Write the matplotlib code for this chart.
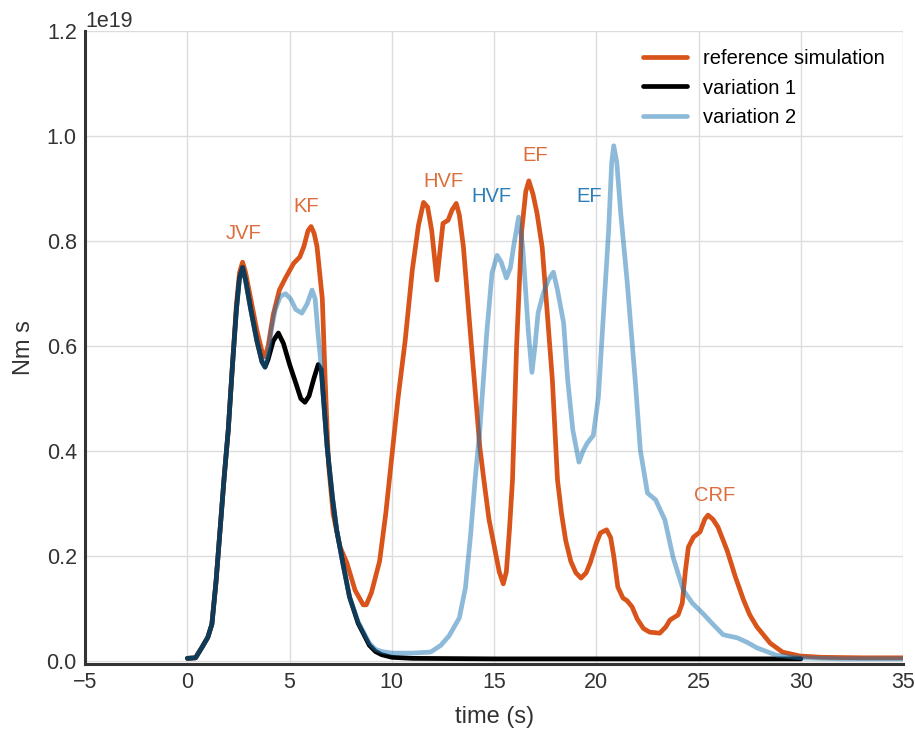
import matplotlib
matplotlib.use('Agg')
import matplotlib.pyplot as plt
import numpy as np

# reference simulation (time in s, value in units of 1e19 Nm s)
ref_t = [0.0, 0.4, 0.7, 1.0, 1.2, 1.4, 1.6, 1.8, 2.0, 2.2, 2.4, 2.55, 2.7, 2.85,
         3.1, 3.4, 3.65, 3.8, 3.95, 4.2, 4.5, 4.8, 5.2, 5.5, 5.7, 5.9, 6.05, 6.2,
         6.34, 6.6, 6.74, 6.9, 7.13, 7.47, 7.8, 8.2, 8.6, 8.75, 9.0, 9.4, 9.7, 10.0,
         10.3, 10.65, 11.0, 11.3, 11.55, 11.75, 11.95, 12.2, 12.35, 12.5, 12.75,
         12.95, 13.15, 13.3, 13.5, 13.83, 14.1, 14.3, 14.5, 14.75, 15.0, 15.25,
         15.45, 15.6, 15.75, 15.9, 16.1, 16.35, 16.55, 16.7, 16.9, 17.1, 17.35,
         17.6, 17.85, 18.1, 18.3, 18.5, 18.75, 19.0, 19.25, 19.5, 19.7, 20.0, 20.2,
         20.5, 20.7, 20.85, 21.05, 21.3, 21.5, 21.75, 22.0, 22.3, 22.6, 23.1, 23.4,
         23.6, 24.0, 24.2, 24.35, 24.5, 24.75, 25.07, 25.3, 25.46, 25.7, 25.95,
         26.4, 26.8, 27.2, 27.5, 27.85, 28.5, 29.1, 29.95, 31.0, 33.0, 35.0]
ref_y = [0.005, 0.006, 0.025, 0.045, 0.07, 0.15, 0.25, 0.35, 0.44, 0.56, 0.68,
         0.74, 0.76, 0.74, 0.69, 0.63, 0.59, 0.58, 0.60, 0.66, 0.707, 0.73, 0.758,
         0.77, 0.79, 0.82, 0.828, 0.815, 0.79, 0.69, 0.535, 0.377, 0.28, 0.217,
         0.187, 0.135, 0.107, 0.107, 0.13, 0.19, 0.28, 0.39, 0.50, 0.61, 0.745,
         0.83, 0.874, 0.865, 0.82, 0.726, 0.78, 0.834, 0.84, 0.86, 0.872, 0.85,
         0.789, 0.63, 0.503, 0.408, 0.345, 0.27, 0.22, 0.17, 0.147, 0.17, 0.25,
         0.345, 0.6, 0.82, 0.895, 0.915, 0.89, 0.853, 0.789, 0.663, 0.535, 0.345,
         0.28, 0.23, 0.19, 0.168, 0.158, 0.168, 0.187, 0.225, 0.244, 0.25, 0.235,
         0.20, 0.141, 0.12, 0.115, 0.103, 0.08, 0.062, 0.055, 0.053, 0.065, 0.078,
         0.088, 0.11, 0.17, 0.217, 0.236, 0.246, 0.27, 0.278, 0.27, 0.255, 0.21,
         0.16, 0.116, 0.088, 0.065, 0.034, 0.017, 0.0095, 0.007, 0.006, 0.006]

# variation 1
v1_t = [0.0, 0.4, 0.7, 1.0, 1.2, 1.4, 1.6, 1.8, 2.0, 2.2, 2.4, 2.55, 2.7, 2.85,
        3.1, 3.4, 3.65, 3.8, 3.95, 4.2, 4.45, 4.7, 5.0, 5.3, 5.55, 5.75, 5.95,
        6.2, 6.4, 6.55, 6.65, 6.83, 7.1, 7.3, 7.6, 7.93, 8.35, 8.6, 8.9, 9.2, 9.5,
        10.0, 11.0, 15.0, 20.0, 25.0, 30.0]
v1_y = [0.005, 0.006, 0.025, 0.045, 0.07, 0.15, 0.25, 0.35, 0.44, 0.56, 0.67,
        0.73, 0.75, 0.725, 0.67, 0.61, 0.57, 0.56, 0.575, 0.61, 0.625, 0.605,
        0.565, 0.53, 0.50, 0.493, 0.505, 0.54, 0.565, 0.555, 0.503, 0.41, 0.31,
        0.25, 0.187, 0.122, 0.072, 0.053, 0.03, 0.018, 0.012, 0.007, 0.005, 0.004,
        0.004, 0.004, 0.004]

# variation 2
v2_t = [0.0, 0.4, 0.7, 1.0, 1.2, 1.4, 1.6, 1.8, 2.0, 2.2, 2.4, 2.55, 2.7, 2.85,
        3.1, 3.4, 3.65, 3.8, 3.95, 4.1, 4.3, 4.55, 4.8, 5.05, 5.3, 5.6, 5.85, 6.1,
        6.25, 6.4, 6.55, 6.65, 6.83, 7.1, 7.3, 7.6, 7.93, 8.35, 8.6, 8.9, 9.2,
        9.5, 10.0, 11.0, 11.9, 12.4, 12.8, 13.3, 13.6, 13.85, 14.07, 14.3, 14.65,
        14.9, 15.15, 15.35, 15.6, 15.8, 15.95, 16.2, 16.4, 16.67, 16.85, 17.0,
        17.15, 17.4, 17.65, 17.9, 18.1, 18.4, 18.6, 18.85, 19.15, 19.35, 19.55,
        19.85, 20.1, 20.35, 20.6, 20.75, 20.85, 21.0, 21.2, 21.5, 21.9, 22.15,
        22.5, 22.9, 23.1, 23.35, 23.75, 24.25, 24.7, 25.2, 25.7, 26.2, 26.9, 27.4,
        27.85, 28.8, 30.0, 32.0, 35.0]
v2_y = [0.005, 0.006, 0.025, 0.045, 0.07, 0.15, 0.25, 0.35, 0.44, 0.56, 0.67,
        0.73, 0.75, 0.725, 0.67, 0.61, 0.57, 0.56, 0.585, 0.63, 0.67, 0.695,
        0.70, 0.69, 0.67, 0.663, 0.68, 0.707, 0.69, 0.62, 0.56, 0.503, 0.41, 0.31,
        0.25, 0.187, 0.122, 0.075, 0.056, 0.034, 0.022, 0.018, 0.015, 0.015,
        0.017, 0.03, 0.048, 0.082, 0.14, 0.24, 0.345, 0.44, 0.63, 0.74, 0.773,
        0.76, 0.73, 0.75, 0.789, 0.846, 0.789, 0.63, 0.55, 0.60, 0.663, 0.70,
        0.726, 0.741, 0.707, 0.644, 0.535, 0.44, 0.379, 0.40, 0.415, 0.43, 0.503,
        0.663, 0.82, 0.95, 0.982, 0.95, 0.85, 0.726, 0.535, 0.402, 0.32, 0.307,
        0.29, 0.269, 0.198, 0.135, 0.11, 0.091, 0.07, 0.05, 0.044, 0.035, 0.025,
        0.011, 0.006, 0.004, 0.004]

# peak labels: (text, t, y, series)
labels = [("JVF", 2.73, 0.815, "ref"), ("KF", 5.8, 0.867, "ref"),
          ("HVF", 12.5, 0.914, "ref"), ("HVF", 14.85, 0.886, "v2"),
          ("EF", 17.0, 0.964, "ref"), ("EF", 19.65, 0.886, "v2"),
          ("CRF", 25.76, 0.316, "ref")]

SCALE = 1e19
ORANGE = "#d9541a"
BLUE = "#1f77b4"
DARK = "#333333"

plt.rcParams['font.family'] = ['Liberation Sans', 'DejaVu Sans']

fig = plt.figure(figsize=(9.15, 7.29), dpi=100)
ax = fig.add_axes([0.093, 0.089, 0.894, 0.868])

line_kw = dict(lw=3.4, solid_joinstyle='round', solid_capstyle='round')
ax.plot(ref_t, np.array(ref_y) * SCALE, color=ORANGE, label="reference simulation", **line_kw)
ax.plot(v1_t, np.array(v1_y) * SCALE, color="black", label="variation 1", **line_kw)
ax.plot(v2_t, np.array(v2_y) * SCALE, color=BLUE, alpha=0.5, label="variation 2", **line_kw)

for txt, t, y, s in labels:
    c = ORANGE if s == "ref" else BLUE
    ax.text(t, y * SCALE, txt, color=c, alpha=0.85 if s == "ref" else 0.95,
            fontsize=14.5, ha='center', va='center')

ax.set_xlim(-5, 35)
ax.set_ylim(-0.006 * SCALE, 1.2 * SCALE)
ax.set_xticks(np.arange(-5, 36, 5))
ax.set_yticks(np.arange(0, 1.21, 0.2) * SCALE)
ax.set_xticklabels(["\u22125", "0", "5", "10", "15", "20", "25", "30", "35"])

ax.grid(True, color="#dcdcdc", lw=1)
ax.set_axisbelow(True)
for side in ["top", "right"]:
    ax.spines[side].set_visible(False)
for side in ["left", "bottom"]:
    ax.spines[side].set_color(DARK)
    ax.spines[side].set_linewidth(2.2)
ax.tick_params(length=0, labelsize=15.5, colors=DARK, pad=6)
ax.yaxis.get_offset_text().set_fontsize(15.5)
ax.yaxis.get_offset_text().set_color(DARK)

ax.set_xlabel("time (s)", fontsize=17, color=DARK, labelpad=9)
ax.set_ylabel("Nm s", fontsize=17, color=DARK, labelpad=8)

ax.legend(loc="upper right", frameon=False, fontsize=14.5, handlelength=2.2)

fig.savefig("out.png", dpi=100)
